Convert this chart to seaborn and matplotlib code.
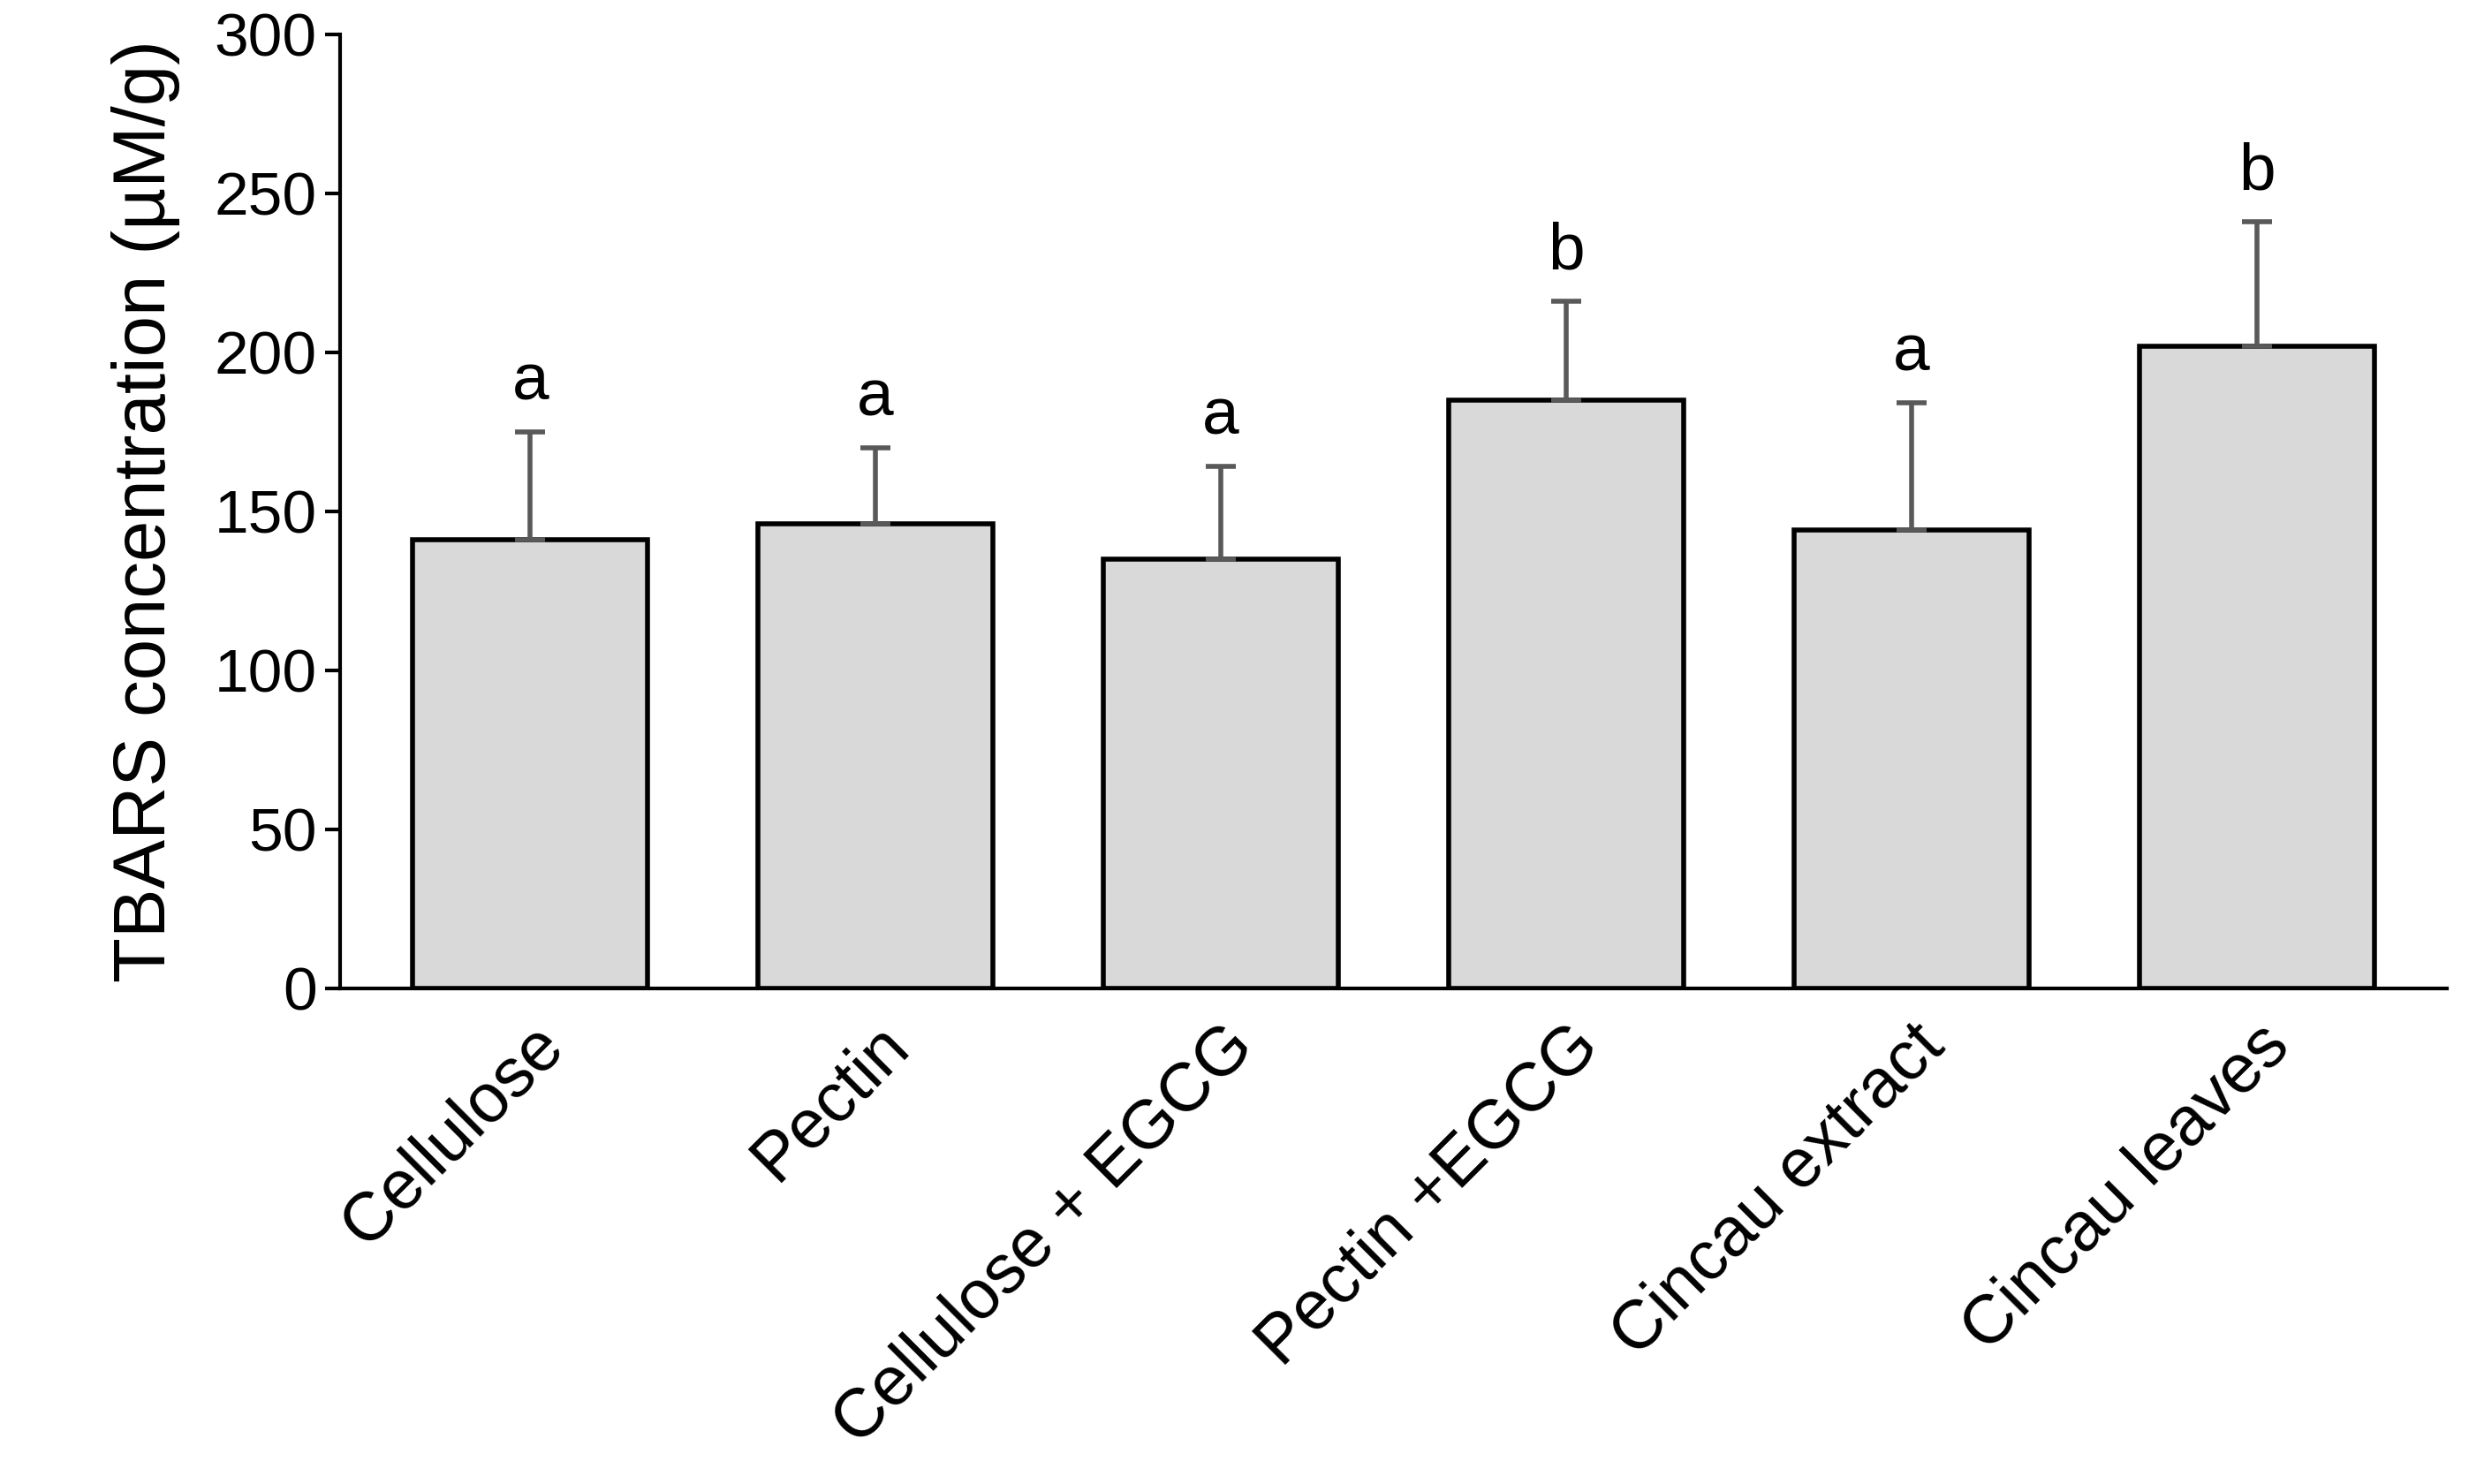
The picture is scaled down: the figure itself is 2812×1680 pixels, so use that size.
import matplotlib
matplotlib.use("Agg")
import matplotlib.pyplot as plt
import seaborn as sns
import pandas as pd
import numpy as np

groups = ["Cellulose", "Pectin", "Cellulose + EGCG", "Pectin +EGCG", "Cincau extract", "Cincau leaves"]
means = [141, 146, 135, 185, 144, 202]
sd = [34, 24, 29, 31, 40, 39]
letters = ["a", "a", "a", "b", "a", "b"]

sns.set_theme(style="white")
plt.rcParams["font.family"] = ["Liberation Sans", "DejaVu Sans"]
plt.rcParams["text.color"] = "black"
plt.rcParams["xtick.color"] = "black"
plt.rcParams["ytick.color"] = "black"
plt.rcParams["axes.labelcolor"] = "black"

df = pd.DataFrame({"group": groups, "value": means})

fig = plt.figure(figsize=(14.06, 8.4), dpi=200)
ax = fig.add_axes([0.137, 0.334, 0.848, 0.643])

sns.barplot(data=df, x="group", y="value", color="#d9d9d9", edgecolor="black",
            linewidth=2, width=0.68, errorbar=None, saturation=1, ax=ax)
x = np.arange(len(groups))
ax.errorbar(x, means, yerr=[np.zeros(len(sd)), sd], fmt="none", ecolor="#595959",
            elinewidth=2, capsize=6, capthick=2, zorder=1)
for xi, m, s, l in zip(x, means, sd, letters):
    ax.text(xi, m + s + 6, l, ha="center", va="bottom", fontsize=27)

ax.set_ylim(0, 300)
ax.set_yticks(range(0, 301, 50))
ax.set_xlim(-0.55, 5.55)
ax.set_xlabel("")
ax.set_ylabel("TBARS concentration (µM/g)", fontsize=30, labelpad=14)
ax.tick_params(axis="y", labelsize=25, length=6, width=1.5, direction="out", left=True)
ax.tick_params(axis="x", length=0, pad=10)
ax.set_xticks(x)
ax.set_xticklabels(groups, rotation=45, ha="right", rotation_mode="anchor", fontsize=28)
for s in ["top", "right"]:
    ax.spines[s].set_visible(False)
for s in ["left", "bottom"]:
    ax.spines[s].set_color("black")
    ax.spines[s].set_linewidth(1.5)

fig.savefig("out.png", dpi=200)
